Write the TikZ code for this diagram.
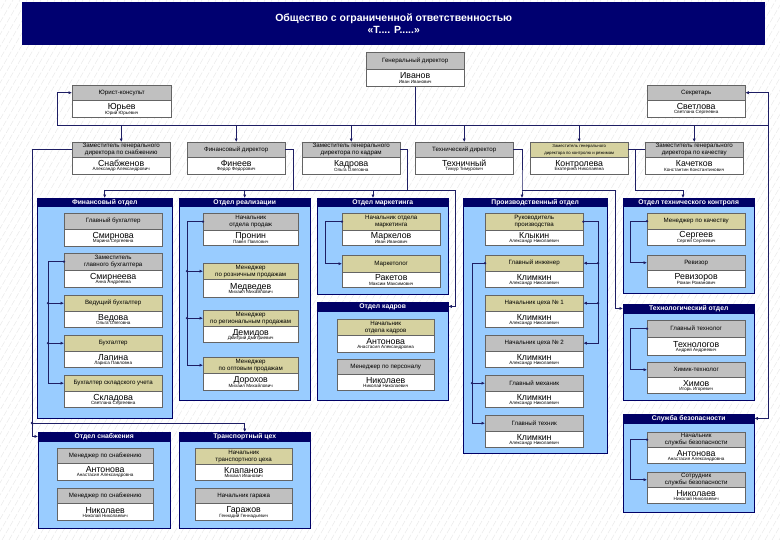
\documentclass[tikz,border=0pt]{standalone}
\usepackage{fontspec}
\setmainfont{Liberation Sans}
\usetikzlibrary{arrows.meta,calc}
\definecolor{navy}{RGB}{0,0,102}
\definecolor{titlebg}{RGB}{0,0,112}
\definecolor{deptfill}{RGB}{153,204,255}
\definecolor{greyhd}{RGB}{192,192,192}
\definecolor{hdkhaki}{RGB}{214,210,160}
\definecolor{lineclr}{RGB}{30,30,100}
\definecolor{boxline}{RGB}{100,100,100}
\tikzset{
 ehead/.style={draw=boxline, line width=0.4pt, inner sep=0pt, align=center, font=\fontsize{6.2}{6.8}\selectfont, anchor=north west},
 ebody/.style={draw=boxline, fill=white, line width=0.4pt, inner sep=0pt, align=center, anchor=north, font=\fontsize{4.6}{5.2}\selectfont},
 depthd/.style={draw=navy, fill=navy, text=white, inner sep=0pt, font=\bfseries\fontsize{6.8}{7}\selectfont, anchor=north west},
 deptbox/.style={draw=navy, fill=deptfill, line width=0.6pt, inner sep=0pt, anchor=north west},
 conn/.style={draw=lineclr, line width=0.8pt},
 arr/.style={conn, -{Latex[length=3.4pt,width=3.2pt]}},
}
\newcommand{\Emp}[9]{%
 \node[ehead, fill=#6, minimum width=#3bp, minimum height=#4bp] (#1h) at #2 {#7};
 \node[ebody, minimum width=#3bp, minimum height=#5bp] (#1b) at (#1h.south) {{\fontsize{8.8}{9}\selectfont #8}\\[-1pt]#9};
}
\newcommand{\Dept}[5]{%
 \node[deptbox, minimum width=#3bp, minimum height=#4bp] (#1) at #2 {};
 \node[depthd, minimum width=#3bp, minimum height=8.5bp] (#1h) at #2 {#5};
}
\newcommand{\jdot}[1]{\fill[lineclr] #1 circle (1.3pt);}
\newcommand{\tinyhd}{\fontsize{4.3}{5.2}\selectfont}
\begin{document}
\begin{tikzpicture}[x=1bp,y=-1bp]
\useasboundingbox (0,0) rectangle (780,540);
\fill[white] (0,0) rectangle (780,540);
\begin{scope}
\clip (0,0) rectangle (780,540);
\foreach \i in {-320,-313,...,780} {
  \draw[gray!20, line width=0.35pt, dash pattern=on 6pt off 2pt] (\i,540) -- ++(312,-540);
}
\end{scope}
% title
\node[fill=titlebg, minimum width=743bp, minimum height=43bp, anchor=north west, inner sep=0pt] (title) at (22,2) {};
\node[text=white, font=\bfseries\fontsize{10.5}{12.5}\selectfont, align=center] (titletxt) at (title.center) {Общество с ограниченной ответственностью\\«Т.... Р.....»};
% top
\Emp{dir}{(366,52)}{98}{17}{17}{greyhd}{Генеральный директор}{Иванов}{Иван Иванович}
\Emp{jur}{(72,85)}{99}{15}{17}{greyhd}{Юрист-консульт}{Юрьев}{Юрий Юрьевич}
\Emp{sec}{(647,85)}{98}{15}{17}{greyhd}{Секретарь}{Светлова}{Светлана Сергеевна}
% deputies
\Emp{da}{(72,142)}{98}{15}{17}{greyhd}{Заместитель генерального\\директора по снабжению}{Снабженов}{Александр Александрович}
\Emp{db}{(187,142)}{98}{15}{17}{greyhd}{Финансовый директор}{Финеев}{Федор Федорович}
\Emp{dc}{(302,142)}{98}{15}{17}{greyhd}{Заместитель генерального\\директора по кадрам}{Кадрова}{Ольга Олеговна}
\Emp{dd}{(415,142)}{98}{15}{17}{greyhd}{Технический директор}{Техничный}{Тимур Тимурович}
\Emp{de}{(530,142)}{98}{15}{17}{hdkhaki}{{\tinyhd Заместитель генерального}\\{\tinyhd директора по контролю и режимам}}{Контролева}{Екатерина Николаевна}
\Emp{df}{(645,142)}{98}{15}{17}{greyhd}{Заместитель генерального\\директора по качеству}{Качетков}{Константин Константинович}
% departments
\Dept{fin}{(37,198)}{135}{220}{Финансовый отдел}
\Dept{sal}{(179,198)}{131}{202}{Отдел реализации}
\Dept{mkt}{(317,198)}{131}{96}{Отдел маркетинга}
\Dept{kd}{(317,302)}{131}{98}{Отдел кадров}
\Dept{pr}{(463,198)}{144}{255}{Производственный отдел}
\Dept{tc}{(623,198)}{131}{95}{Отдел технического контроля}
\Dept{td}{(623,304)}{131}{96}{Технологический отдел}
\Dept{qd}{(623,414)}{131}{98}{Служба безопасности}
\Dept{up}{(38,432)}{132}{96}{Отдел снабжения}
\Dept{rt}{(179,432)}{131}{96}{Транспортный цех}
% finance
\Emp{f1}{(64,213)}{98}{16}{17}{greyhd}{Главный бухгалтер}{Смирнова}{Марина Сергеевна}
\Emp{f2}{(64,253)}{98}{17}{17}{greyhd}{Заместитель\\главного бухгалтера}{Смирнеева}{Анна Андреевна}
\Emp{f3}{(64,295)}{98}{16}{16}{hdkhaki}{Ведущий бухгалтер}{Ведова}{Ольга Олеговна}
\Emp{f4}{(64,335)}{98}{16}{16}{hdkhaki}{Бухгалтер}{Лапина}{Лариса Павловна}
\Emp{f5}{(64,375)}{98}{16}{16}{hdkhaki}{Бухгалтер складского учета}{Складова}{Светлана Сергеевна}
% sales
\Emp{s1}{(203,213)}{95}{17}{15}{greyhd}{Начальник\\отдела продаж}{Пронин}{Павел Павлович}
\Emp{s2}{(203,263)}{95}{16}{18}{hdkhaki}{Менеджер\\по розничным продажам}{Медведев}{Михаил Михайлович}
\Emp{s3}{(203,310)}{95}{16}{16}{hdkhaki}{Менеджер\\по региональным продажам}{Демидов}{Дмитрий Дмитриевич}
\Emp{s4}{(203,357)}{95}{16}{17}{hdkhaki}{Менеджер\\по оптовым продажам}{Дорохов}{Михаил Михайлович}
% marketing
\Emp{m1}{(342,213)}{98}{17}{15}{hdkhaki}{Начальник отдела\\маркетинга}{Маркелов}{Иван Иванович}
\Emp{m2}{(342,255)}{98}{17}{15}{hdkhaki}{Маркетолог}{Ракетов}{Максим Максимович}
% cadres
\Emp{k1}{(337,319)}{97}{16}{17}{hdkhaki}{Начальник\\отдела кадров}{Антонова}{Анастасия Александровна}
\Emp{k2}{(337,359)}{97}{15}{16}{greyhd}{Менеджер по персоналу}{Николаев}{Николай Николаевич}
% production
\Emp{p1}{(485,213)}{98}{17}{15}{hdkhaki}{Руководитель\\производства}{Клыкин}{Александр Николаевич}
\Emp{p2}{(485,255)}{98}{16}{16}{hdkhaki}{Главный инженер}{Климкин}{Александр Николаевич}
\Emp{p3}{(485,295)}{98}{16}{16}{hdkhaki}{Начальник цеха № 1}{Климкин}{Александр Николаевич}
\Emp{p4}{(485,335)}{98}{16}{16}{greyhd}{Начальник цеха № 2}{Климкин}{Александр Николаевич}
\Emp{p5}{(485,375)}{98}{16}{16}{greyhd}{Главный механик}{Климкин}{Александр Николаевич}
\Emp{p6}{(485,415)}{98}{16}{16}{greyhd}{Главный техник}{Климкин}{Александр Николаевич}
% tech control
\Emp{t1}{(647,213)}{98}{16}{16}{hdkhaki}{Менеджер по качеству}{Сергеев}{Сергей Сергеевич}
\Emp{t2}{(647,255)}{98}{15}{17}{greyhd}{Ревизор}{Ревизоров}{Роман Романович}
% tech dept
\Emp{g1}{(647,320)}{98}{17}{18}{greyhd}{Главный технолог}{Технологов}{Андрей Андреевич}
\Emp{g2}{(647,362)}{98}{15}{16}{greyhd}{Химик-технолог}{Химов}{Игорь Игоревич}
% security
\Emp{q1}{(647,432)}{98}{15}{16}{greyhd}{Начальник\\службы безопасности}{Антонова}{Анастасия Александровна}
\Emp{q2}{(647,472)}{98}{15}{16}{greyhd}{Сотрудник\\службы безопасности}{Николаев}{Николай Николаевич}
% supply
\Emp{u1}{(57,448)}{96}{15}{17}{greyhd}{Менеджер по снабжению}{Антонова}{Анастасия Александровна}
\Emp{u2}{(57,488)}{96}{15}{17}{greyhd}{Менеджер по снабжению}{Николаев}{Николай Николаевич}
% transport
\Emp{r1}{(195,448)}{97}{16}{16}{hdkhaki}{Начальник\\транспортного цеха}{Клапанов}{Михаил Иванович}
\Emp{r2}{(195,488)}{97}{15}{17}{greyhd}{Начальник гаража}{Гаражов}{Геннадий Геннадьевич}

% ---- top connectors
\coordinate (busL) at (57,125);
\coordinate (busR) at (768,125);
\draw[conn] (busL) -- (busR);
\draw[conn] (dirb.south) -- (dirb.south |- busL);
\draw[arr] (busL) |- (jurh.west);
\draw[arr] (busR) |- (sech.east);
\draw[arr] (busR) |- (qdh.east);
\draw[arr] (dah.north |- busL) -- (dah.north);
\draw[arr] (dbh.north |- busL) -- (dbh.north);
\draw[arr] (dch.north |- busL) -- (dch.north);
\draw[arr] (ddh.north |- busL) -- (ddh.north);
\draw[arr] (deh.north |- busL) -- (deh.north);
\draw[arr] (dfh.north |- busL) -- (dfh.north);
% supply deputy
\coordinate (sx) at (32,0);
\coordinate (sj) at (32,423);
\draw[arr] (dah.west) -- (sx |- dah.west) |- (uph.west);
\draw[arr] (sj) -| (rth.north);
% finance director
\coordinate (fx) at (293,190);
\coordinate (kx1) at (407,190);
\coordinate (kx) at (455,190);
\coordinate (mx) at (373,190);
\draw[conn] (dbh.east) -| (fx);
\draw[conn] (finh.north |- fx) -- (kx1);
\draw[arr] (finh.north |- fx) -- (finh.north);
\draw[arr] (salh.north |- fx) -- (salh.north);
\draw[arr] (mx) -- (mx |- mkth.north);
% HR deputy
\draw[arr] (dch.east) -| (kx1) -- (kx) |- (kdh.east);
% technical director
\coordinate (tx) at (522,190);
\coordinate (tx2) at (615,190);
\draw[arr] (ddh.east) -| (tx) -- (tx |- prh.north);
\draw[arr] (tx) -- (tx2) |- (tdh.west);
% control / quality
\coordinate (cx) at (635,190);
\coordinate (cx2) at (683,190);
\draw[conn] (deh.east) -- (dfh.west);
\draw[arr] (cx |- deh.east) -- (cx) -- (cx2) -- (cx2 |- tch.north);

% ---- internal connectors
\coordinate (fL) at (48,0);
\draw[arr] (f2h.west) -- (fL |- f2h.west) -- (fL |- f5h.west) -- (f5h.west);
\draw[arr] (fL |- f3h.west) -- (f3h.west);
\draw[arr] (fL |- f4h.west) -- (f4h.west);
\jdot{(f2h.west)}\jdot{(fL |- f3h.west)}\jdot{(fL |- f4h.west)}
\coordinate (sL) at (187,0);
\draw[arr] (s1h.west) -- (sL |- s1h.west) -- (sL |- s4h.west) -- (s4h.west);
\draw[arr] (sL |- s2h.west) -- (s2h.west);
\draw[arr] (sL |- s3h.west) -- (s3h.west);
\jdot{(s1h.west)}\jdot{(sL |- s2h.west)}\jdot{(sL |- s3h.west)}
\coordinate (mL) at (325,0);
\draw[arr] (m1h.west) -- (mL |- m1h.west) -- (mL |- m2h.west) -- (m2h.west);
\jdot{(m1h.west)}
\coordinate (pR) at (598,0);
\draw[arr] (p1h.east) -- (pR |- p1h.east) -- (pR |- p4h.east) -- (p4h.east);
\draw[arr] (pR |- p2h.east) -- (p2h.east);
\draw[arr] (pR |- p3h.east) -- (p3h.east);
\jdot{(p1h.east)}\jdot{(pR |- p2h.east)}\jdot{(pR |- p3h.east)}
\coordinate (pL) at (472,0);
\draw[arr] (p2h.west) -- (pL |- p2h.west) -- (pL |- p6h.west) -- (p6h.west);
\draw[arr] (pL |- p5h.west) -- (p5h.west);
\jdot{(p2h.west)}\jdot{(pL |- p5h.west)}
\coordinate (cL) at (630,0);
\draw[arr] (t1h.west) -- (cL |- t1h.west) -- (cL |- t2h.west) -- (t2h.west);
\draw[arr] (g1h.west) -- (cL |- g1h.west) -- (cL |- g2h.west) -- (g2h.west);
\draw[arr] (q1h.west) -- (cL |- q1h.west) -- (cL |- q2h.west) -- (q2h.west);
\jdot{(t1h.west)}\jdot{(g1h.west)}\jdot{(q1h.west)}
\jdot{(sj)}
\end{tikzpicture}
\end{document}
